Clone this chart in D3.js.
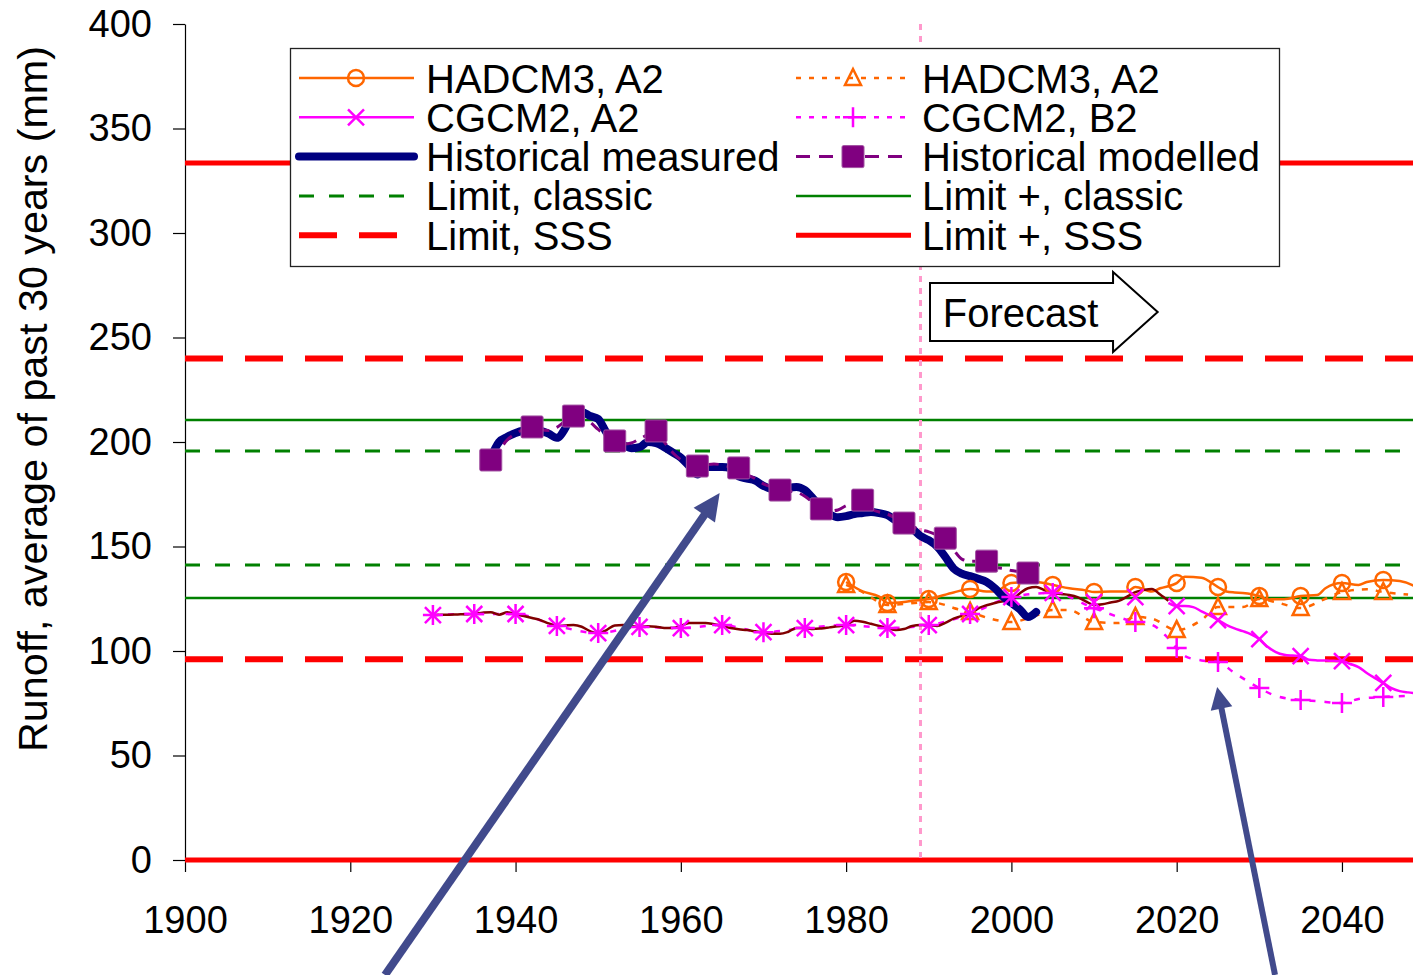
<!DOCTYPE html>
<html>
<head>
<meta charset="utf-8">
<script src="https://cdn.jsdelivr.net/npm/d3@7"></script>
<style>
  body { margin: 0; background: #fff; }
  svg { display: block; font-family: "Liberation Sans", Arial, sans-serif; }
</style>
</head>
<body>
<svg id="chart" width="1413" height="975"></svg>
<script>
// ---------------- data ----------------
const xTicks = [1900, 1920, 1940, 1960, 1980, 2000, 2020, 2040];
const yTicks = [0, 50, 100, 150, 200, 250, 300, 350, 400];

// Historical measured runoff, 30-year running mean (mm), 1937-2003
const measuredYears = d3.range(1937, 2004);
const measuredValues = [
  192.5, 200, 202.5, 204.3, 205.5, 206, 205.5, 204, 202, 206.5,
  214.5, 214.4, 212.5, 211, 204.5, 200, 198.6, 197, 197.5, 200,
  199.5, 197.5, 195, 192.5, 188.5, 184.5, 188, 188, 188, 187.5,
  183.5, 182.5, 181.5, 179, 177.5, 177, 178, 178.5, 177, 173,
  168.5, 165.5, 164, 164.5, 165.5, 166, 166.5, 166, 165, 162.5,
  160.5, 158.5, 155, 153, 150, 145, 139.5, 137, 135.8, 134.5,
  133, 130, 126, 123, 120, 116.3, 118.7
];

// Historical modelled runoff, 1937-2003 (markers every fifth year)
const modelledYears = d3.range(1937, 2004);
const modelledValues = [
  191.4, 196, 201, 204, 206, 207.2, 206, 205.5, 207, 210,
  212.4, 211.5, 209.5, 206, 203, 200.5, 199, 199.5, 201.5, 203.5,
  205.3, 200, 195, 191.5, 189.5, 188.5, 189, 189.5, 189, 188,
  187.6, 184.5, 182.5, 180, 178.5, 177, 176.5, 176, 174, 171,
  168, 167, 167.5, 169.5, 171, 172.2, 168, 166.5, 165.5, 163.5,
  161.2, 159.5, 158, 157, 155.5, 154, 148.5, 144, 143, 143,
  143, 140, 139.5, 138.5, 138, 137.3, 136.5
];
const modelledMarkerYears = [1937, 1942, 1947, 1952, 1957, 1962, 1967, 1972, 1977, 1982, 1987, 1992, 1997, 2002];

// Climate-model control run, 1930-2019
const controlYears = d3.range(1930, 2020);
const controlValues = [
  117.2, 117.3, 117.4, 117.5, 117.6, 117.8, 118.3, 118.6, 117.4, 118.5,
  117.5, 116.7, 115.8, 114.8, 113.2, 112, 112.2, 112.4, 111.6, 109.5,
  108.4, 110, 112.2, 112.4, 112, 111.4, 111.8, 111.6, 111, 111,
  112, 113.4, 113.4, 113.4, 112.8, 112, 111, 110.4, 110, 109.4,
  108.8, 108.3, 108.2, 109.2, 111, 111, 110.5, 110.8, 111.3, 111.8,
  112.4, 114.5, 114, 113, 112, 111, 110, 110.5, 112, 112.4,
  112.4, 112, 113.5, 115.5, 116.8, 117.7, 120.4, 121.9, 123, 123.8,
  124.4, 127.5, 130, 130.6, 129.2, 127.8, 127.3, 126.8, 125.8, 123.8,
  122, 122.4, 123.2, 124, 126, 128.2, 129.2, 129.7, 127, 124
];

// CGCM2, A2
const cgA2MarkerYears = [1930, 1935, 1940, 1945, 1950, 1955, 1960, 1965, 1970, 1975, 1980, 1985,
                         1990, 1995, 2000, 2005, 2010, 2015, 2020, 2025, 2030, 2035, 2040, 2045];
const cgA2MarkerValues = [117.2, 117.7, 117.7, 112, 108.6, 111.5, 111, 112.4, 109, 111, 112.4, 111,
                          112.4, 117.7, 125.8, 127.8, 123.4, 125.8, 121.5, 114.8, 105.7, 97.6, 95.2, 84.7];
const cgA2LineYears = d3.range(2019, 2051);
const cgA2LineValues = [
  123, 121.5, 121.5, 121, 119, 117, 114.8, 112.5, 110.8, 109.5,
  108, 105.7, 102, 99.5, 98.2, 97.8, 97.6, 95.8, 95.5, 95.4,
  95.3, 95.2, 93.8, 92.3, 89.5, 87, 84.7, 82.2, 80.8, 80.2,
  79.8, 79.5
];

// CGCM2, B2
const cgB2MarkerYears = cgA2MarkerYears;
const cgB2MarkerValues = [117.2, 117.7, 117.7, 112, 108.6, 111.5, 111, 112.4, 109, 111, 112.4, 111,
                          112.4, 117.7, 125.8, 127.8, 120.5, 113.9, 101.4, 94.7, 82.3, 76.6, 75.1, 78];
const cgB2LineYears = [1930, 1935, 1940, 1945, 1950, 1955, 1960, 1965, 1970, 1975, 1980, 1985,
                       1990, 1995, 2000, 2005, 2010, 2015, 2017, 2019, 2020, 2021, 2023, 2025,
                       2027, 2030, 2032, 2035, 2037, 2040, 2042, 2045, 2048, 2050];
const cgB2LineValues = [117.2, 117.7, 117.7, 112, 108.6, 111.5, 111, 112.4, 109, 111, 112.4, 111,
                        112.4, 117.7, 125.8, 127.8, 120.5, 113.9, 112.5, 106, 101.4, 97.5, 95.5, 94.7,
                        89.5, 82.3, 78.5, 76.6, 76, 75.1, 77, 78, 78.5, 78.5];

// HADCM3, A2 (circles, solid)
const hadCircleMarkerYears = [1980, 1985, 1990, 1995, 2000, 2005, 2010, 2015, 2020, 2025, 2030, 2035, 2040, 2045];
const hadCircleMarkerValues = [133, 123, 124.9, 129.7, 132.5, 131.6, 128.2, 130.6, 132.5, 130.6, 126.3, 126.3, 132.5, 134];
const hadCircleLineYears = [1980, 1982, 1984, 1985, 1987, 1988, 1990, 1993, 1995, 1997, 1998, 2000, 2003, 2005,
                            2007, 2009, 2010, 2012, 2014, 2015, 2017, 2018, 2020, 2021, 2023, 2025, 2026, 2027,
                            2028, 2030, 2031, 2033, 2035, 2037, 2038, 2040, 2042, 2043, 2045, 2047, 2049, 2050];
const hadCircleLineValues = [133, 128.5, 126, 123, 123.5, 124, 124.9, 128, 129.7, 128.5, 128.5, 132.5, 133, 131.6,
                             130, 129, 128.2, 128.5, 128.5, 130.6, 128.5, 130, 132.5, 135.5, 135, 130.6, 128.5, 128,
                             127.8, 126.3, 124.7, 124.8, 126.3, 126.8, 130, 132.5, 131.6, 133, 134, 133.5, 130.6, 128];

// HADCM3, A2 (triangles, dotted)
const hadTriMarkerYears = hadCircleMarkerYears;
const hadTriMarkerValues = [131.6, 122, 123.4, 118.7, 113.9, 119.6, 113.9, 116.3, 110, 121, 124.9, 120.6, 128.2, 128.2];
const hadTriLineYears = [1980, 1982, 1985, 1990, 1992, 1993, 1995, 1997, 2000, 2003, 2005, 2007, 2010, 2013,
                         2015, 2017, 2020, 2023, 2025, 2028, 2030, 2032, 2035, 2038, 2040, 2043, 2045, 2048];
const hadTriLineValues = [131.6, 128.2, 122, 123.4, 122, 120.6, 118.7, 116, 113.9, 117, 119.6, 119.6, 113.9, 113.4,
                          116.3, 115.5, 110, 114.8, 121, 121, 124.9, 123.4, 120.6, 125, 128.2, 129.5, 128.2, 127];

// Management limits (mm)
const limitSSS = [240, 96];
const limitPlusSSS = [333.5, 0];
const limitClassic = [195.7, 141.1];
const limitPlusClassic = [210.5, 125.4];
const forecastStartYear = 1989;

// ---------------- layout ----------------
const svg = d3.select("#chart");
const x = d3.scaleLinear().domain([1900, 2050]).range([185, 1424.6]);
const y = d3.scaleLinear().domain([0, 400]).range([860, 24]);

const C = {
  orange: "#FF6600", magenta: "#FF00FF", navy: "#000080", purple: "#800080",
  maroon: "#800000", green: "#008000", red: "#FF0000", pink: "#FF99CC", arrow: "#414A8C"
};

const zip = (xs, ys) => xs.map((v, i) => [v, ys[i]]);
const line = d3.line().x(d => x(d[0])).y(d => y(d[1])).curve(d3.curveMonotoneX);

// axes
const yAxis = svg.append("g").attr("transform", `translate(${x(1900)},0)`)
  .call(d3.axisLeft(y).tickValues(yTicks).tickSize(12).tickSizeOuter(0).tickPadding(21));
const xAxis = svg.append("g").attr("transform", `translate(0,${y(0)})`)
  .call(d3.axisBottom(x).tickValues(xTicks).tickFormat(d3.format("d")).tickSize(12).tickSizeOuter(0).tickPadding(34));
[yAxis, xAxis].forEach(a => {
  a.selectAll("text").attr("font-size", 38).attr("fill", "#000").attr("font-family", "Liberation Sans, Arial, sans-serif");
  a.selectAll("line, path").attr("stroke", "#000").attr("stroke-width", 1.2);
});

svg.append("text")
  .attr("transform", "translate(47,399) rotate(-90)")
  .attr("text-anchor", "middle").attr("font-size", 40)
  .attr("textLength", 706).attr("lengthAdjust", "spacingAndGlyphs")
  .text("Runoff, average of past 30 years  (mm)");

// horizontal limit lines
const hLines = svg.append("g");
function hLine(v, color, width, dash) {
  hLines.append("line")
    .attr("x1", x(1900)).attr("x2", x(2050)).attr("y1", y(v)).attr("y2", y(v))
    .attr("stroke", color).attr("stroke-width", width)
    .attr("stroke-dasharray", dash || null);
}
limitPlusClassic.forEach(v => hLine(v, C.green, 2.5));
limitClassic.forEach(v => hLine(v, C.green, 3, "15,15"));
limitSSS.forEach(v => hLine(v, C.red, 6, "38,22"));
limitPlusSSS.forEach(v => hLine(v, C.red, 5));

// forecast start
svg.append("line")
  .attr("x1", x(forecastStartYear)).attr("x2", x(forecastStartYear))
  .attr("y1", y(400)).attr("y2", y(0))
  .attr("stroke", C.pink).attr("stroke-width", 3).attr("stroke-dasharray", "6,6");

// series lines
const lines = svg.append("g").attr("fill", "none").attr("stroke-linejoin", "round");
function drawLine(data, color, width, dash, cap) {
  lines.append("path").attr("d", line(data))
    .attr("stroke", color).attr("stroke-width", width)
    .attr("stroke-dasharray", dash || null).attr("stroke-linecap", cap || "butt");
}
drawLine(zip(hadTriLineYears, hadTriLineValues), C.orange, 2.5, "6,8");
drawLine(zip(hadCircleLineYears, hadCircleLineValues), C.orange, 2.5);
drawLine(zip(cgB2LineYears, cgB2LineValues), C.magenta, 2.5, "6,9");
drawLine(zip(cgA2LineYears, cgA2LineValues), C.magenta, 2.5);
drawLine(zip(controlYears, controlValues), C.maroon, 2.5);
drawLine(zip(measuredYears, measuredValues), C.navy, 8, null, "round");
drawLine(zip(modelledYears, modelledValues), C.purple, 3, "12,8");

// markers
const markerShapes = {
  circle: (g, color) => g.append("circle").attr("r", 8).attr("fill", "none").attr("stroke", color).attr("stroke-width", 2.5),
  triangle: (g, color) => g.append("path").attr("d", "M0,-9L8,7L-8,7Z").attr("fill", "none").attr("stroke", color).attr("stroke-width", 2.5),
  cross: (g, color) => g.append("path").attr("d", "M-8,-8L8,8M-8,8L8,-8").attr("stroke", color).attr("stroke-width", 2.5),
  plus: (g, color) => g.append("path").attr("d", "M-10,0H10M0,-10V10").attr("stroke", color).attr("stroke-width", 2.5),
  square: (g, color) => g.append("rect").attr("x", -11).attr("y", -11).attr("width", 22).attr("height", 22).attr("rx", 1.5)
    .attr("fill", color).attr("stroke", "#A050A0").attr("stroke-width", 1)
};
const markers = svg.append("g");
function drawMarkers(pts, shape, color) {
  pts.forEach(p => {
    const g = markers.append("g").attr("transform", `translate(${x(p[0])},${y(p[1])})`);
    markerShapes[shape](g, color);
  });
}
drawMarkers(zip(hadCircleMarkerYears, hadCircleMarkerValues), "circle", C.orange);
drawMarkers(zip(hadTriMarkerYears, hadTriMarkerValues), "triangle", C.orange);
drawMarkers(zip(cgA2MarkerYears, cgA2MarkerValues), "cross", C.magenta);
drawMarkers(zip(cgB2MarkerYears, cgB2MarkerValues), "plus", C.magenta);
const modelledLookup = new Map(zip(modelledYears, modelledValues));
drawMarkers(modelledMarkerYears.map(yr => [yr, modelledLookup.get(yr)]), "square", C.purple);

// legend
const legendItems = [
  { label: "HADCM3, A2", color: C.orange, width: 2.5, marker: "circle" },
  { label: "HADCM3, A2", color: C.orange, width: 2.5, dash: "5,8", marker: "triangle" },
  { label: "CGCM2, A2", color: C.magenta, width: 2.5, marker: "cross" },
  { label: "CGCM2, B2", color: C.magenta, width: 2.5, dash: "5,8", marker: "plus" },
  { label: "Historical measured", color: C.navy, width: 8, cap: "round" },
  { label: "Historical modelled", color: C.purple, width: 3, dash: "14,9", marker: "square" },
  { label: "Limit, classic", color: C.green, width: 3, dash: "15,15" },
  { label: "Limit +, classic", color: C.green, width: 2.5 },
  { label: "Limit, SSS", color: C.red, width: 6, dash: "38,22" },
  { label: "Limit +, SSS", color: C.red, width: 5 }
];
const legend = svg.append("g");
legend.append("rect").attr("x", 290.5).attr("y", 48.5).attr("width", 989).attr("height", 218)
  .attr("fill", "#fff").attr("stroke", "#222").attr("stroke-width", 1.3);
const colX = [299, 796];
const textX = [426, 922];
legendItems.forEach((it, i) => {
  const col = i % 2, row = Math.floor(i / 2);
  const cy = 78 + row * 39.3;
  legend.append("line").attr("x1", colX[col]).attr("x2", colX[col] + 115).attr("y1", cy).attr("y2", cy)
    .attr("stroke", it.color).attr("stroke-width", it.width)
    .attr("stroke-dasharray", it.dash || null).attr("stroke-linecap", it.cap || "butt");
  if (it.marker) {
    const g = legend.append("g").attr("transform", `translate(${colX[col] + 57},${cy})`);
    markerShapes[it.marker](g, it.color);
  }
  legend.append("text").attr("x", textX[col]).attr("y", cy + 14.5).attr("font-size", 40).text(it.label);
});

// forecast arrow (data coordinates)
const fc = { left: 1990.15, shaftEnd: 2012.3, tip: 2017.7, top: 276.1, bottom: 248.3, headTop: 281.3, headBottom: 243.1 };
const fcMid = (fc.top + fc.bottom) / 2;
svg.append("path")
  .attr("d", `M${x(fc.left)},${y(fc.top)}H${x(fc.shaftEnd)}V${y(fc.headTop)}L${x(fc.tip)},${y(fcMid)}` +
             `L${x(fc.shaftEnd)},${y(fc.headBottom)}V${y(fc.bottom)}H${x(fc.left)}Z`)
  .attr("fill", "#fff").attr("stroke", "#000").attr("stroke-width", 2).attr("stroke-linejoin", "miter");
svg.append("text").attr("x", x(1991.7)).attr("y", y(255)).attr("font-size", 40).text("Forecast");

// pointer arrows
const pointers = [
  { from: [1924.2, -55], to: [1964.7, 175.6], width: 8, head: 27, half: 13 },
  { from: [2031.9, -55], to: [2024.9, 82.8], width: 6, head: 22, half: 11 }
];
pointers.forEach(p => {
  const x1 = x(p.from[0]), y1 = y(p.from[1]), x2 = x(p.to[0]), y2 = y(p.to[1]);
  const len = Math.hypot(x2 - x1, y2 - y1);
  const ux = (x2 - x1) / len, uy = (y2 - y1) / len;
  const bx = x2 - ux * p.head, by = y2 - uy * p.head;
  svg.append("line").attr("x1", x1).attr("y1", y1).attr("x2", bx + ux * 2).attr("y2", by + uy * 2)
    .attr("stroke", C.arrow).attr("stroke-width", p.width);
  svg.append("path")
    .attr("d", `M${x2},${y2}L${bx - uy * p.half},${by + ux * p.half}L${bx + uy * p.half},${by - ux * p.half}Z`)
    .attr("fill", C.arrow);
});
</script>
</body>
</html>
